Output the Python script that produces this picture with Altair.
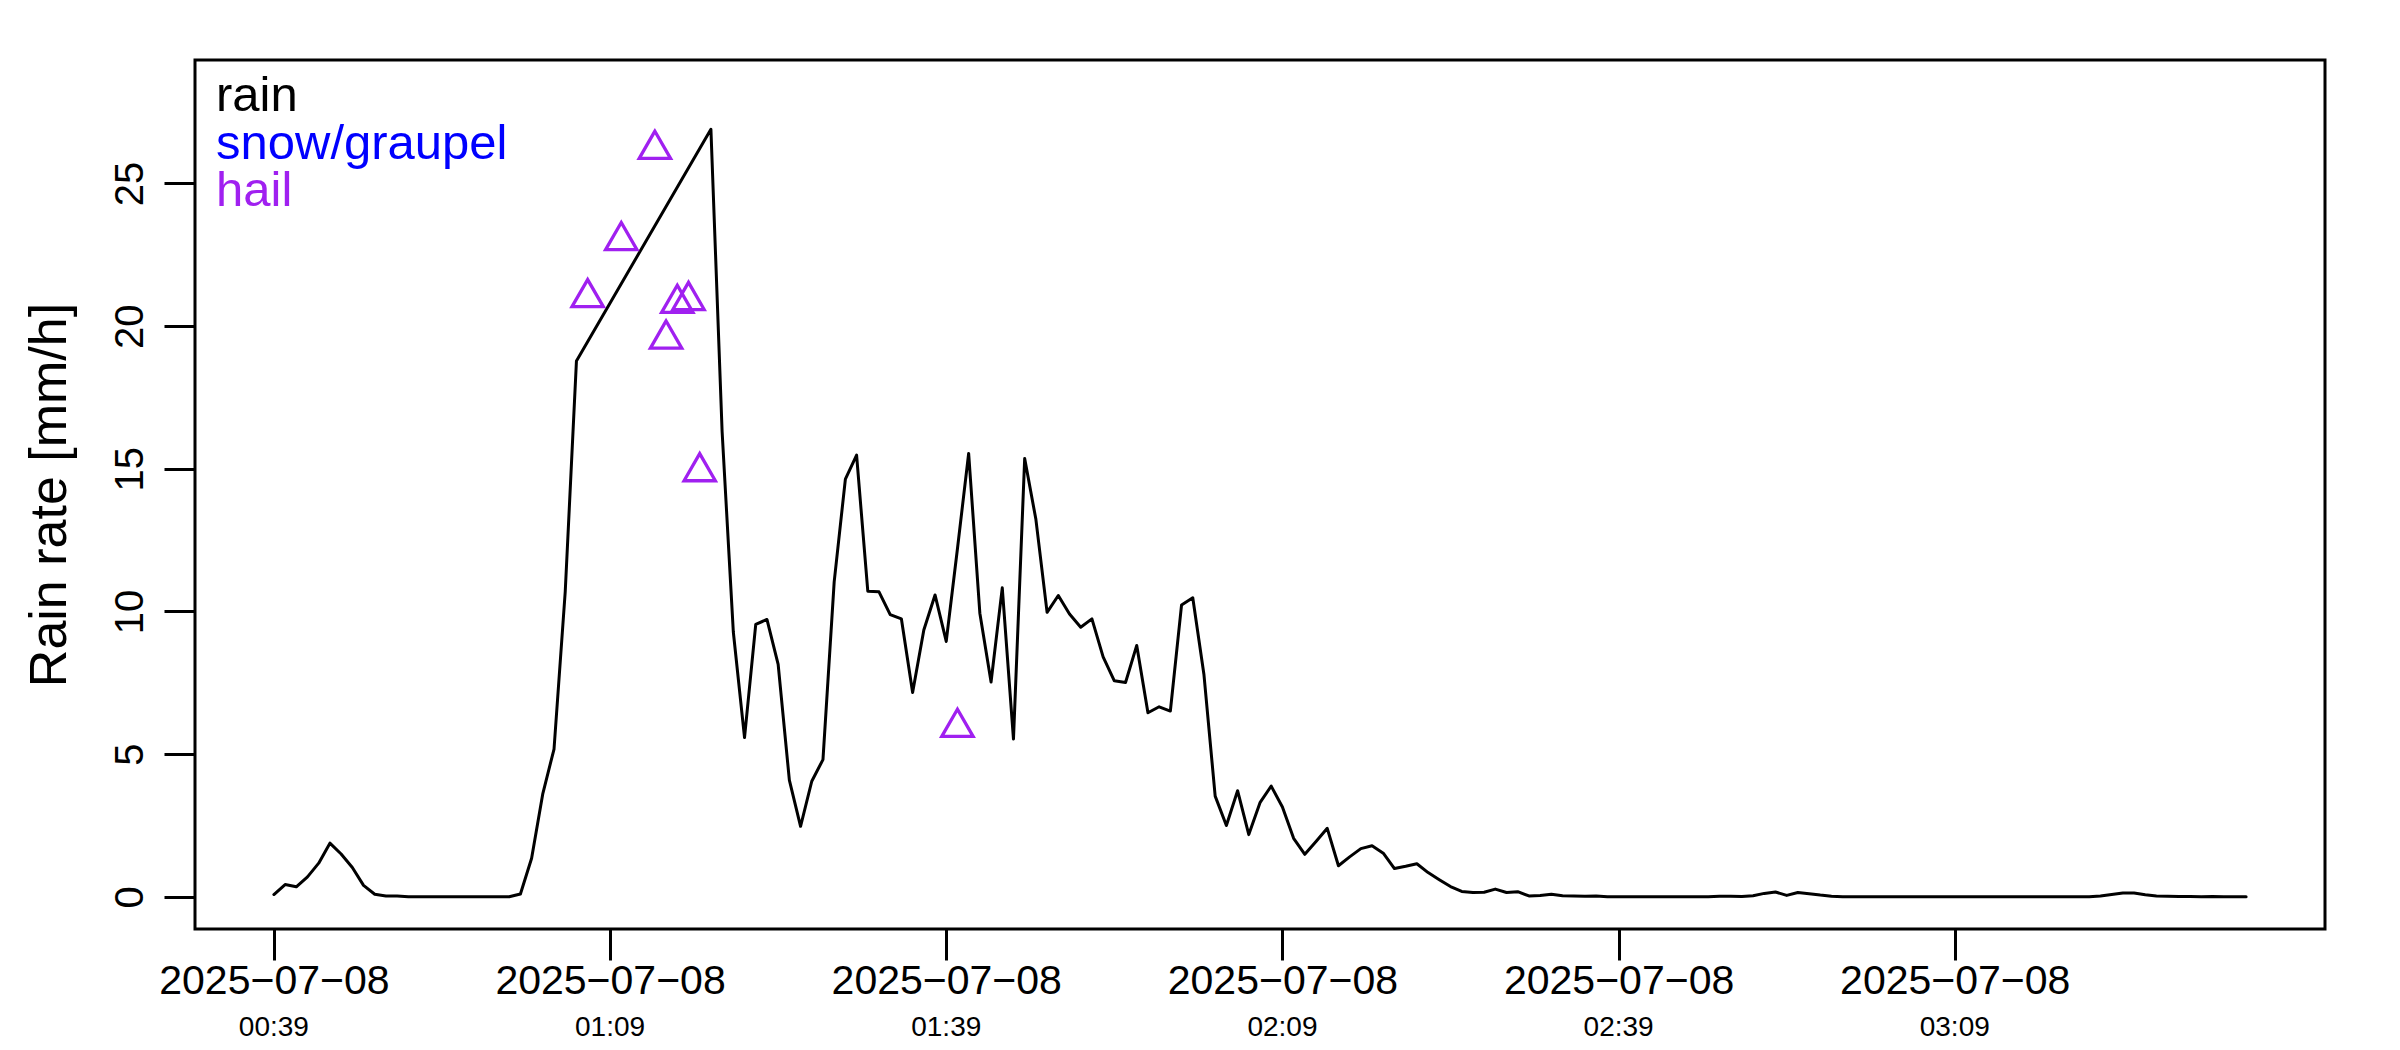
import altair as alt
import pandas as pd

# ---------------- data ----------------
DATE = "2025-07-08"
START = "00:39"

# minutes after 00:39 for each rain sample (no rain data between 01:07 and 01:17)
rain_offset_min = list(range(0, 28)) + list(range(39, 177))
rain_rate = [
    0.08, 0.43, 0.35, 0.70, 1.18, 1.88, 1.50, 1.03, 0.40, 0.09, 0.03, 0.03,
    0.0, 0.0, 0.0, 0.0, 0.0, 0.0, 0.0, 0.0, 0.0, 0.0,
    0.10, 1.35, 3.62, 5.18, 10.7, 18.78,
    # 39 ..
    26.9, 16.3, 9.28, 5.58, 9.55, 9.72, 8.15, 4.09, 2.47, 4.05,
    4.81, 11.04, 14.64, 15.48, 10.71, 10.69, 9.89, 9.74, 7.16, 9.35,
    10.58, 8.95, 12.2, 15.54, 9.94, 7.53, 10.83, 5.53, 15.36, 13.23,
    9.97, 10.56, 9.91, 9.45, 9.74, 8.41, 7.57, 7.51, 8.81, 6.45,
    6.66, 6.51, 10.23, 10.48, 7.78, 3.53, 2.50, 3.72, 2.18, 3.30,
    3.88, 3.15, 2.05, 1.49, 1.94, 2.40, 1.09, 1.40, 1.69, 1.79,
    1.53, 0.99, 1.07, 1.16, 0.85, 0.60, 0.36, 0.19, 0.15, 0.16,
    0.27, 0.15, 0.18, 0.03, 0.05, 0.09, 0.04, 0.03, 0.02, 0.03,
    0.0, 0.0, 0.0, 0.0, 0.0, 0.0, 0.0, 0.0, 0.0, 0.0,
    0.02, 0.02, 0.01, 0.04, 0.12, 0.17, 0.05, 0.15, 0.11, 0.06,
    0.02, 0.0, 0.0, 0.0, 0.0, 0.0, 0.0, 0.0, 0.0, 0.0,
    0.0, 0.0, 0.0, 0.0, 0.0, 0.0, 0.0, 0.0, 0.0, 0.0,
    0.0, 0.0, 0.0, 0.0, 0.03, 0.08, 0.13, 0.13, 0.07, 0.03,
    0.02, 0.01, 0.01, 0.0, 0.01, 0.0, 0.0, 0.0,
]
assert len(rain_rate) == len(rain_offset_min)

hail_offset_min = [28, 31, 34, 35, 36, 37, 38, 61]
hail_rate = [21.0, 23.0, 26.2, 19.55, 20.8, 20.9, 14.9, 5.94]

tick_times = ["00:39", "01:09", "01:39", "02:09", "02:39", "03:09"]
y_ticks = [0, 5, 10, 15, 20, 25]
y_lim = [0, 28.2]

legend_labels = ["rain", "snow/graupel", "hail"]
legend_colors = ["#000000", "#0000FF", "#A020F0"]

# ---------------- helpers ----------------
t0 = pd.Timestamp(f"{DATE} {START}")


def iso(minutes):
    return [(t0 + pd.Timedelta(minutes=m)).strftime("%Y-%m-%dT%H:%M:%SZ") for m in minutes]


def dt(ts):
    return alt.DateTime(year=ts.year, month=ts.month, date=ts.day, hours=ts.hour,
                        minutes=ts.minute, seconds=ts.second,
                        milliseconds=int(ts.microsecond / 1000), utc=True)


df_rain = pd.DataFrame({"t": iso(rain_offset_min), "rate": rain_rate})
df_hail = pd.DataFrame({"t": iso(hail_offset_min), "rate": hail_rate})
df_ticks = pd.DataFrame({"t": [f"{DATE}T{hm}:00Z" for hm in tick_times], "label": tick_times})

# R-style 4% axis extension
span = max(rain_offset_min) - min(rain_offset_min)
x_lo = t0 + pd.Timedelta(minutes=min(rain_offset_min) - 0.04 * span)
x_hi = t0 + pd.Timedelta(minutes=max(rain_offset_min) + 0.04 * span)
ypad = 0.04 * (y_lim[1] - y_lim[0])

x_scale = alt.Scale(type="utc", domain=[dt(x_lo), dt(x_hi)])
y_scale = alt.Scale(domain=[y_lim[0] - ypad, y_lim[1] + ypad], nice=False, zero=False)

W, H = 2130, 869
FONT = "Liberation Sans"
LW = 3.0

x_axis = alt.Axis(
    values=[dt(pd.Timestamp(f"{DATE} {hm}")) for hm in tick_times],
    labelExpr="utcFormat(datum.value, '%Y') + '\u2212' + utcFormat(datum.value, '%m') + '\u2212' + utcFormat(datum.value, '%d')",
    title=None, grid=False, domain=False,
    ticks=True, tickSize=31, tickWidth=LW, tickColor="black",
    labelFont=FONT, labelFontSize=41, labelColor="black", labelLimit=0,
    labelPadding=33, labelBaseline="alphabetic", labelAlign="center",
    labelFlush=False, labelOverlap=False,
)

y_axis = alt.Axis(
    values=y_ticks, grid=False, domain=False,
    ticks=True, tickSize=31, tickWidth=LW, tickColor="black",
    labelFont=FONT, labelFontSize=40, labelColor="black", labelLimit=0,
    labelAngle=270, labelAlign="center", labelBaseline="alphabetic",
    labelPadding=22, labelFlush=False, labelOverlap=False,
    title="Rain rate [mm/h]", titleFont=FONT, titleFontSize=52,
    titleFontWeight="normal", titleColor="black", titleAngle=270,
    titleAlign="center", titleBaseline="alphabetic", titleX=-130, titleY=H / 2,
)

rain = alt.Chart(df_rain).mark_line(
    color="black", strokeWidth=LW, strokeJoin="round", strokeCap="round"
).encode(
    x=alt.X("t:T", scale=x_scale, axis=x_axis),
    y=alt.Y("rate:Q", scale=y_scale, axis=y_axis),
)

hail = alt.Chart(df_hail).mark_point(
    shape="triangle-up", filled=False, color="#A020F0", size=980,
    strokeWidth=3.3, opacity=1, yOffset=-4.5,
).encode(
    x=alt.X("t:T", scale=x_scale),
    y=alt.Y("rate:Q", scale=y_scale),
)

time_labels = alt.Chart(df_ticks).mark_text(
    font=FONT, fontSize=28, color="black", align="center", baseline="alphabetic"
).encode(
    x=alt.X("t:T", scale=x_scale),
    y=alt.value(H + 107),
    text="label:N",
)

legend_layers = []
for i, (lab, col) in enumerate(zip(legend_labels, legend_colors)):
    legend_layers.append(
        alt.Chart(pd.DataFrame({"label": [lab]})).mark_text(
            font=FONT, fontSize=49, color=col, align="left", baseline="alphabetic"
        ).encode(
            x=alt.value(21),
            y=alt.value(51 + i * 47.5),
            text="label:N",
        )
    )

chart = alt.layer(rain, hail, time_labels, *legend_layers).properties(
    width=W, height=H,
    autosize=alt.AutoSizeParams(type="none"),
    padding={"left": 187, "top": 52, "right": 40, "bottom": 118},
    background="white",
).configure_view(stroke="black", strokeWidth=LW)

chart.save("out.html", embed_options={"renderer": "svg", "actions": False})
